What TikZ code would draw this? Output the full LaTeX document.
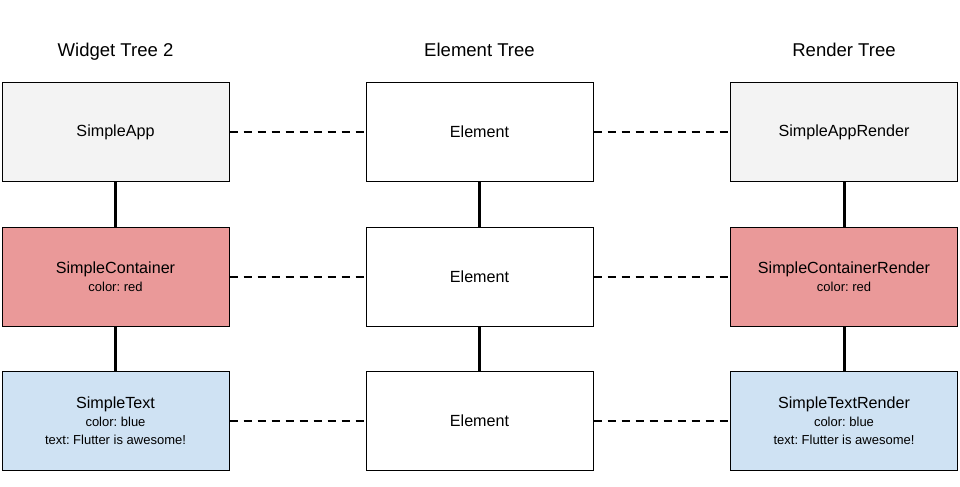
\documentclass[tikz,border=0pt]{standalone}
\usepackage{fontspec}
\setmainfont{Liberation Sans}
\usepackage{tikz}
\usetikzlibrary{arrows}
\frenchspacing

\definecolor{appgray}{HTML}{F3F3F3}
\definecolor{contred}{HTML}{EA9999}
\definecolor{textblue}{HTML}{CFE2F3}

\newcommand{\mainfs}{\fontsize{12.1}{12.5}\selectfont}
\newcommand{\subfs}{\fontsize{9.75}{11.6}\selectfont}
\newcommand{\titlefs}{\fontsize{13.9}{16}\selectfont}

\tikzset{
  treebox/.style={draw, line width=0.75pt, minimum width=170.25pt, minimum height=74.25pt, inner sep=0pt, align=center, font=\mainfs},
  treetitle/.style={anchor=base, inner sep=0pt, font=\titlefs},
  childline/.style={line width=2.25pt},
  mapline/.style={line width=1.5pt, dash pattern=on 6pt off 4.5pt}
}

\begin{document}
\begin{tikzpicture}[x=0.75pt,y=0.75pt,yscale=-1,xscale=1]
\useasboundingbox (0,0) rectangle (960,486);

% Text Node
\node [treetitle] (wtitle) at (115.5,56) {Widget Tree 2};
% Text Node
\node [treetitle] (etitle) at (479.5,56) {Element Tree};
% Text Node
\node [treetitle] (rtitle) at (844,56) {Render Tree};

%Shape: Rectangle
\node [treebox, fill=appgray] (app) at (115.5,132) {SimpleApp};
%Shape: Rectangle
\node [treebox, fill=contred] (cont) at (115.5,276.5) {SimpleContainer\\[1pt]\subfs color: red};
%Shape: Rectangle
\node [treebox, fill=textblue] (txt) at (115.5,421) {SimpleText\\[1pt]\subfs color: blue\\[1pt]\subfs text: Flutter is awesome!};

%Shape: Rectangle
\node [treebox, fill=white] (ela) at (479.5,132) {Element};
%Shape: Rectangle
\node [treebox, fill=white] (elb) at (479.5,276.5) {Element};
%Shape: Rectangle
\node [treebox, fill=white] (elc) at (479.5,421) {Element};

%Shape: Rectangle
\node [treebox, fill=appgray] (appr) at (844,132) {SimpleAppRender};
%Shape: Rectangle
\node [treebox, fill=contred] (contr) at (844,276.5) {SimpleContainerRender\\[1pt]\subfs color: red};
%Shape: Rectangle
\node [treebox, fill=textblue] (txtr) at (844,421) {SimpleTextRender\\[1pt]\subfs color: blue\\[1pt]\subfs text: Flutter is awesome!};

%Straight Lines
\draw [childline] (app) -- (cont);
\draw [childline] (cont) -- (txt);
\draw [childline] (ela) -- (elb);
\draw [childline] (elb) -- (elc);
\draw [childline] (appr) -- (contr);
\draw [childline] (contr) -- (txtr);

%Straight Lines
\draw [mapline] (app) -- (ela);
\draw [mapline] (ela) -- (appr);
\draw [mapline] (cont) -- (elb);
\draw [mapline] (elb) -- (contr);
\draw [mapline] (txt) -- (elc);
\draw [mapline] (elc) -- (txtr);

\end{tikzpicture}
\end{document}
